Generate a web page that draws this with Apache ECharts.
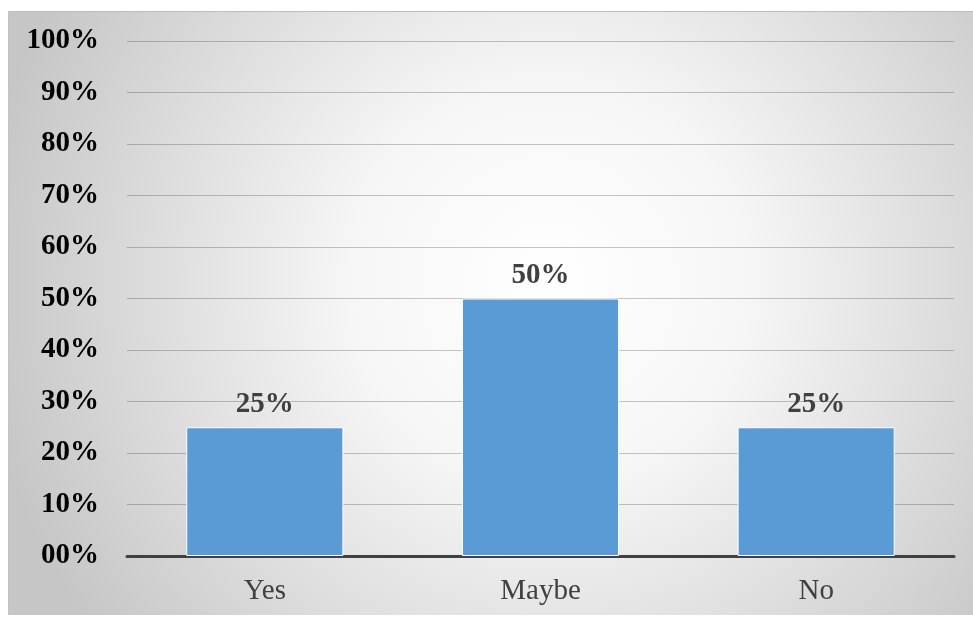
<!DOCTYPE html>
<html><head><meta charset="utf-8">
<script src="https://cdn.jsdelivr.net/npm/echarts@6/dist/echarts.min.js"></script>
<style>
html,body{margin:0;padding:0;background:#fff;width:973px;height:618px;overflow:hidden;}
#c{position:absolute;left:8px;top:11px;width:965px;height:604px;box-sizing:border-box;border-top:1px solid #bdbdbd;border-left:1px solid #c4c4c4;}
</style></head>
<body><div id="c"></div>
<script>
var categories = ['Yes', 'Maybe', 'No'];
var values = [0.25, 0.50, 0.25];
var yTicks = [0, 0.1, 0.2, 0.3, 0.4, 0.5, 0.6, 0.7, 0.8, 0.9, 1.0];

function pct(v){
  var n = Math.round(v * 100);
  return (n < 10 ? '0' + n : '' + n) + '%';
}
var chart = echarts.init(document.getElementById('c'));
chart.setOption({
  backgroundColor: {
    type: 'radial', x: 0.56, y: 0.45, r: 0.95,
    colorStops: [
      {offset: 0, color: '#ffffff'},
      {offset: 0.35, color: '#f6f6f6'},
      {offset: 1, color: '#c6c6c6'}
    ]
  },
  animation: false,
  grid: {left: 118, right: 19, top: 29, bottom: 59, containLabel: false},
  xAxis: {
    type: 'category', data: categories,
    axisLine: {show: true, lineStyle: {color: '#404040', width: 3}},
    axisTick: {show: false},
    axisLabel: {color: '#404040', fontFamily: 'Liberation Serif', fontSize: 29, margin: 21}
  },
  yAxis: {
    type: 'value', min: 0, max: 1, interval: 0.1,
    axisLine: {show: false}, axisTick: {show: false},
    splitLine: {lineStyle: {color: 'rgba(0,0,0,0.22)', width: 1}},
    axisLabel: {
      color: '#000', fontFamily: 'Liberation Serif', fontWeight: 'bold', fontSize: 29, margin: 28,
      padding: [6, 0, 0, 0],
      formatter: function(v){ return pct(v); }
    }
  },
  series: [{
    type: 'bar', data: values, barWidth: '57%',
    itemStyle: {color: '#5b9bd5', borderColor: '#ffffff', borderWidth: 1},
    label: {
      show: true, position: 'top', distance: 8,
      color: '#404040', fontFamily: 'Liberation Serif', fontWeight: 'bold', fontSize: 29,
      formatter: function(p){ return pct(p.value); }
    }
  }]
});
</script></body></html>
